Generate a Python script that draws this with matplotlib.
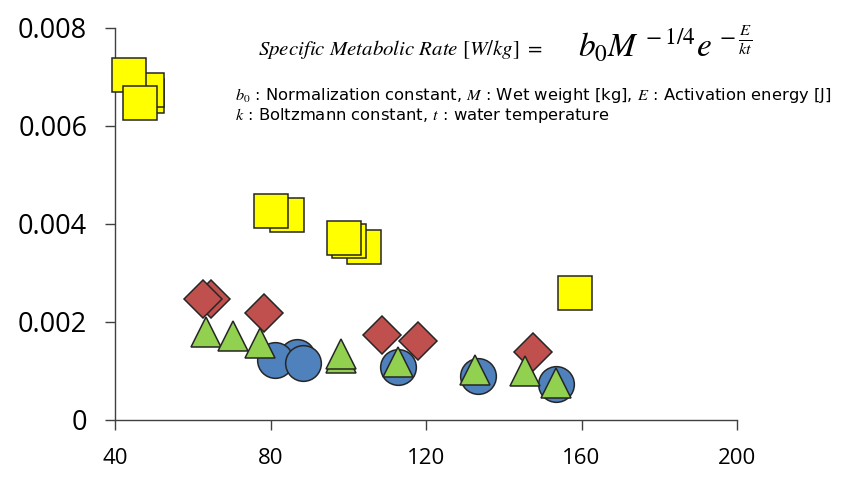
import matplotlib
matplotlib.use("Agg")
import matplotlib.pyplot as plt

# marker data (draw order: back to front)
circle_x = [86.8, 81.1, 88.4, 112.8, 133.5, 153.5]
circle_y = [0.00129, 0.00122, 0.00117, 0.00108, 0.00090, 0.00074]

diamond_x = [64.7, 62.6, 78.3, 108.7, 117.9, 147.5]
diamond_y = [0.00247, 0.00247, 0.00218, 0.00173, 0.00161, 0.00139]

triangle_x = [63.4, 70.3, 77.3, 98.1, 98.1, 112.9, 132.6, 145.5, 153.4]
triangle_y = [0.00180, 0.00171, 0.00157, 0.00127, 0.00135, 0.00118, 0.00102, 0.00101, 0.00076]

square_x = [48.2, 48.2, 43.6, 46.4, 84.2, 80.1, 104.0, 100.1, 98.9, 158.3]
square_y = [0.00661, 0.00673, 0.00704, 0.00647, 0.00418, 0.00427, 0.00353, 0.00365, 0.00372, 0.00259]

x_ticks = [40, 80, 120, 160, 200]
y_ticks = [0, 0.002, 0.004, 0.006, 0.008]
y_tick_labels = ['0', '0.002', '0.004', '0.006', '0.008']

W, H = 861, 478
plt.rcParams['mathtext.fontset'] = 'stix'

fig = plt.figure(figsize=(W / 100, H / 100), dpi=100)
ax = fig.add_axes([115 / W, 1 - 420 / H, 622 / W, 392 / H])

edge = '#262626'
ax.plot(circle_x, circle_y, 'o', ms=25.7, mfc='#4F81BD', mec=edge, mew=1.1, zorder=3, clip_on=False)
ax.plot(diamond_x, diamond_y, 'D', ms=19.3, mfc='#C0504D', mec=edge, mew=1.1, zorder=4, clip_on=False)
ax.plot(triangle_x, triangle_y, '^', ms=22, mfc='#92D050', mec=edge, mew=1.1, zorder=5, clip_on=False)
ax.plot(square_x, square_y, 's', ms=23.8, mfc='#FFFF00', mec=edge, mew=1.1, zorder=6, clip_on=False)

ax.set_xlim(40, 200)
ax.set_ylim(0, 0.008)
ax.set_xticks(x_ticks)
ax.set_yticks(y_ticks)
ax.set_yticklabels(y_tick_labels)

for s in ['top', 'right']:
    ax.spines[s].set_visible(False)
for s in ['left', 'bottom']:
    ax.spines[s].set_color('#404040')
    ax.spines[s].set_linewidth(1.0)

ax.tick_params(axis='both', direction='out', length=7, width=1.0, color='#404040')
ax.tick_params(axis='y', pad=13, labelsize=19.5)
ax.tick_params(axis='x', pad=13, labelsize=16)
for lbl in ax.get_xticklabels() + ax.get_yticklabels():
    lbl.set_fontfamily('Open Sans')

# formula and explanation text
fig.text(258 / W, 1 - 55 / H,
         r'$\mathit{Specific\ Metabolic\ Rate}\ \mathrm{[}\mathit{W/kg}\mathrm{]}\ \mathrm{=}$',
         fontsize=15, va='baseline', ha='left')
fig.text(578 / W, 1 - 58 / H, r'$b_0M^{\,-1/4}e^{\,-\frac{E}{kt}}$',
         fontsize=24, va='baseline', ha='left')
fig.text(235 / W, 1 - 100 / H,
         r'$b_0$ : Normalization constant, $M$ : Wet weight [kg], $E$ : Activation energy [J]',
         fontsize=11.8, va='baseline', ha='left', family='DejaVu Sans')
fig.text(235 / W, 1 - 120 / H,
         r'$k$ : Boltzmann constant, $t$ : water temperature',
         fontsize=11.8, va='baseline', ha='left', family='DejaVu Sans')

fig.savefig('out.png', dpi=100)
